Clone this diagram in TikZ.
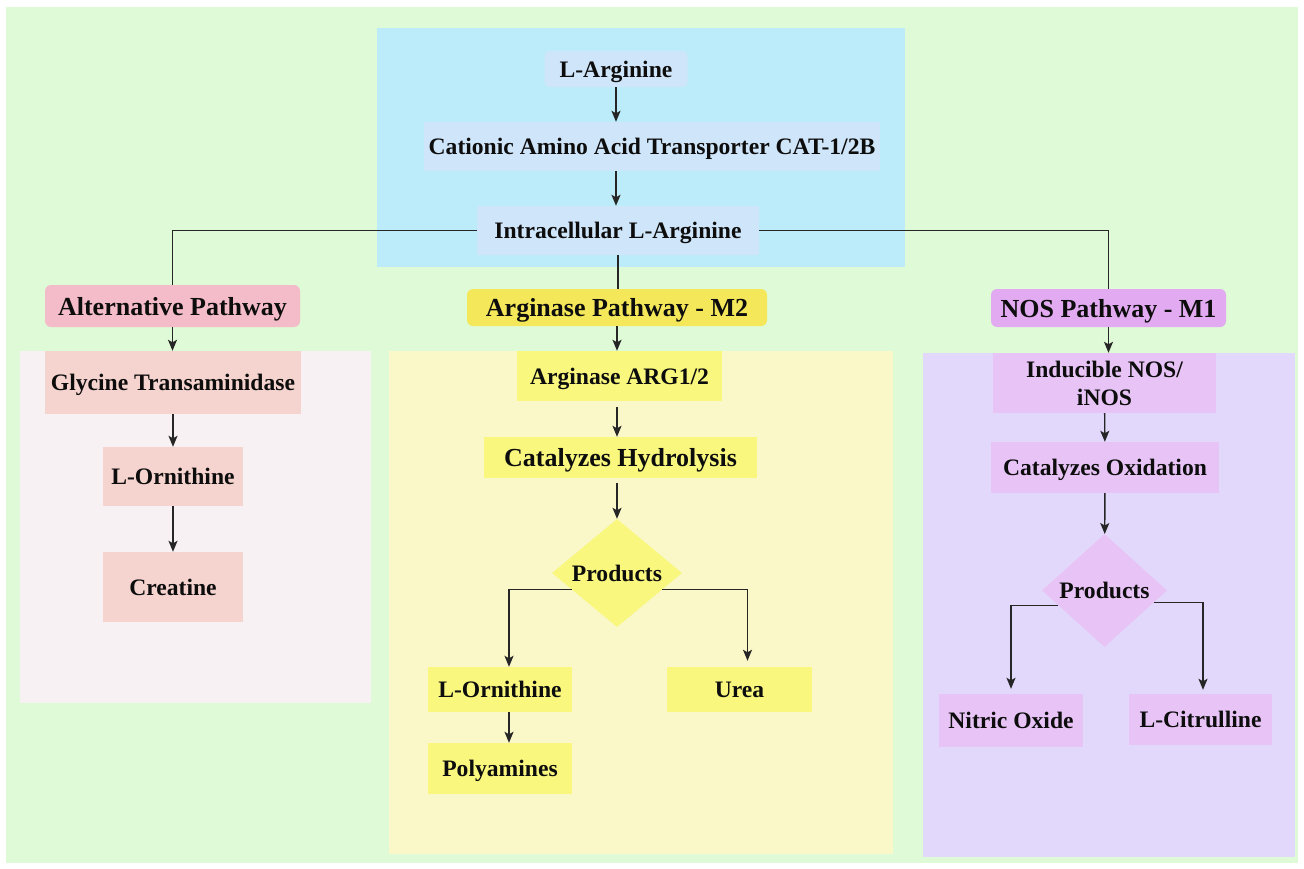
\documentclass[tikz,border=0pt]{standalone}
\usepackage{fontspec}
\setmainfont{Liberation Serif}
\usetikzlibrary{arrows.meta,shapes.geometric}

\definecolor{bgGreen}{HTML}{DFFAD6}
\definecolor{topBlue}{HTML}{BCEBF9}
\definecolor{nodeBlue}{HTML}{CFE5F9}
\definecolor{altHead}{HTML}{F4BCC8}
\definecolor{altPanel}{HTML}{F8F1F3}
\definecolor{altNode}{HTML}{F5D3CE}
\definecolor{argHead}{HTML}{F4E75A}
\definecolor{argPanel}{HTML}{FAF8C8}
\definecolor{argNode}{HTML}{F9F77E}
\definecolor{nosHead}{HTML}{E2AAF1}
\definecolor{nosPanel}{HTML}{E2D8FB}
\definecolor{nosNode}{HTML}{E8C4F6}

\begin{document}
\begin{tikzpicture}[
    x=1pt, y=-1pt,
    font=\bfseries\fontsize{23.6}{28}\selectfont,
    % Cajas sin borde, el texto manda
    box/.style={inner sep=0pt, text depth=0pt, align=center, text=black!95},
    inblue/.style={box, fill=nodeBlue},
    head/.style={box, rounded corners=6pt, font=\bfseries\fontsize{26}{30}\selectfont},
    altbox/.style={box, fill=altNode},
    argbox/.style={box, fill=argNode},
    nosbox/.style={box, fill=nosNode},
    choice/.style={diamond, inner sep=0pt, aspect=1.2, text=black!95},
    % Conexiones
    link/.style={line width=1.4pt, draw=black!85},
    arr/.style={link, -{Stealth[length=11pt,width=9pt,inset=2.5pt]}}
]

\useasboundingbox (0,0) rectangle (1304,869);

% --- Fondos ---
\fill[bgGreen] (6,7) rectangle (1298,863);
\fill[topBlue] (377,28) rectangle (905,267);
\fill[altPanel] (20,351) rectangle (371,703);
\fill[argPanel] (389,351) rectangle (893,854);
\fill[nosPanel] (923,353) rectangle (1295,857);

% --- Entrada ---
\node[inblue, rounded corners=5pt, minimum width=143pt, minimum height=36pt] (larg) at (616,69) {L-Arginine};
\node[inblue, minimum width=456pt, minimum height=49pt] (cat) at (652,146.5) {Cationic Amino Acid Transporter CAT-1/2B};
\node[inblue, minimum width=282pt, minimum height=49pt] (intra) at (618,230.5) {Intracellular L-Arginine};

\draw[arr] (larg.south) -- (larg.south |- cat.north);
\draw[arr] (cat.south -| larg.south) -- (larg.south |- intra.north);

% --- Rutas ---
\node[head, fill=altHead, minimum width=255pt, minimum height=42pt] (alt) at (172.5,306) {Alternative Pathway};
\node[head, fill=argHead, minimum width=300pt, minimum height=37pt] (argp) at (617,307.5) {Arginase Pathway - M2};
\node[head, fill=nosHead, minimum width=235pt, minimum height=38pt] (nosp) at (1108.5,308) {NOS Pathway - M1};

\draw[link] (intra.west) -| (alt.north);
\draw[link] (intra.south) -- (intra.south |- argp.north);
\draw[link] (intra.east) -| (nosp.north);

% --- Ruta alternativa ---
\node[altbox, minimum width=256pt, minimum height=63pt] (gly) at (173,382.5) {Glycine Transaminidase};
\node[altbox, minimum width=140pt, minimum height=59pt] (orn1) at (173,476.5) {L-Ornithine};
\node[altbox, minimum width=140pt, minimum height=70pt] (crea) at (173,587) {Creatine};

\draw[arr] (alt.south) -- (alt.south |- gly.north);
\draw[arr] (gly) -- (orn1);
\draw[arr] (orn1) -- (crea);

% --- Ruta arginasa - M2 ---
\node[argbox, minimum width=205pt, minimum height=50pt] (arg12) at (619.5,376) {Arginase ARG1/2};
\node[argbox, font=\bfseries\fontsize{26}{30}\selectfont, minimum width=273pt, minimum height=41pt] (hyd) at (620.5,457.5) {Catalyzes Hydrolysis};
\node[choice, fill=argNode, minimum width=130pt, minimum height=108pt] (prod1) at (617,573) {Products};
\node[argbox, minimum width=144pt, minimum height=45pt] (orn2) at (500,689.5) {L-Ornithine};
\node[argbox, minimum width=145pt, minimum height=45pt] (urea) at (739.5,689.5) {Urea};
\node[argbox, minimum width=144pt, minimum height=51pt] (poly) at (500,768.5) {Polyamines};

\draw[arr] (argp.south) -- (argp.south |- arg12.north);
\draw[arr, shorten <=6pt] (arg12.south -| argp.south) -- (argp.south |- hyd.north);
\draw[arr, shorten <=5pt] (hyd.south -| prod1.north) -- (prod1.north);
\draw[arr] (prod1.200) -| ([xshift=9pt]orn2.north);
\draw[arr, shorten >=6pt] (prod1.340) -| ([xshift=8pt]urea.north);
\draw[arr] ([xshift=9pt]orn2.south) -- ([xshift=9pt]poly.north);

% --- Ruta NOS - M1 ---
\node[nosbox, minimum width=223pt, minimum height=60pt] (inos) at (1104.5,383) {Inducible NOS/\\iNOS};
\node[nosbox, minimum width=228pt, minimum height=51pt] (cox) at (1105,467.5) {Catalyzes Oxidation};
\node[choice, fill=nosNode, minimum width=125pt, minimum height=113pt] (prod2) at (1104.5,590.5) {Products};
\node[nosbox, minimum width=144pt, minimum height=53pt] (nitric) at (1011,720.5) {Nitric Oxide};
\node[nosbox, minimum width=143pt, minimum height=51pt] (citr) at (1200.5,719.5) {L-Citrulline};

\draw[arr] (nosp.south) -- (nosp.south |- inos.north);
\draw[arr] (inos) -- (cox);
\draw[arr] (cox) -- (prod2);
\draw[arr, shorten >=5pt] (prod2.198) -| (nitric.north);
\draw[arr, shorten >=4pt] (prod2.346) -| ([xshift=2.5pt]citr.north);

\end{tikzpicture}
\end{document}
